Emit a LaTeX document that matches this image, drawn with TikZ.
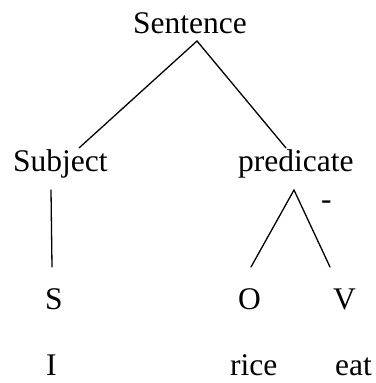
\documentclass[tikz,border=0pt]{standalone}
\usepackage{fontspec}
\setmainfont{Liberation Serif}
\begin{document}
\begin{tikzpicture}[x=1pt,y=-1pt,
  word/.style={anchor=base west,inner sep=0pt,font=\fontsize{31.5}{38}\selectfont},
  lastrow/.style={word,text depth=0pt},
  branch/.style={line width=1.3pt,line cap=round}]
\useasboundingbox (0,0) rectangle (375,383);
% words of the tree
\node[word] (sent) at (133,33) {Sentence};
\node[word] (subj) at (13,171) {Subject};
\node[word] (pred) at (238,171) {predicate};
\node[word] (s) at (45,309) {S};
\node[word] (o) at (238,309) {O};
\node[word] (v) at (333,309) {V};
\node[lastrow] (i) at (46,375) {I};
\node[lastrow] (rice) at (230,375) {rice};
\node[lastrow] (eat) at (335,375) {eat};
\node[word] (dash) at (321,209) {-};
% branch end points
\coordinate (sentFoot) at (197,41);
\coordinate (subjHead) at (79,148);
\coordinate (predHead) at (286,148);
\coordinate (subjFoot) at (51,190);
\coordinate (sHead) at (52,267);
\coordinate (predFoot) at (294,190);
\coordinate (oHead) at (251,267);
\coordinate (vHead) at (330,267);
% branches
\draw[branch] (subjHead) -- (sentFoot) -- (predHead);
\draw[branch] (subjFoot) -- (sHead);
\draw[branch] (oHead) -- (predFoot) -- (vHead);
\end{tikzpicture}
\end{document}
